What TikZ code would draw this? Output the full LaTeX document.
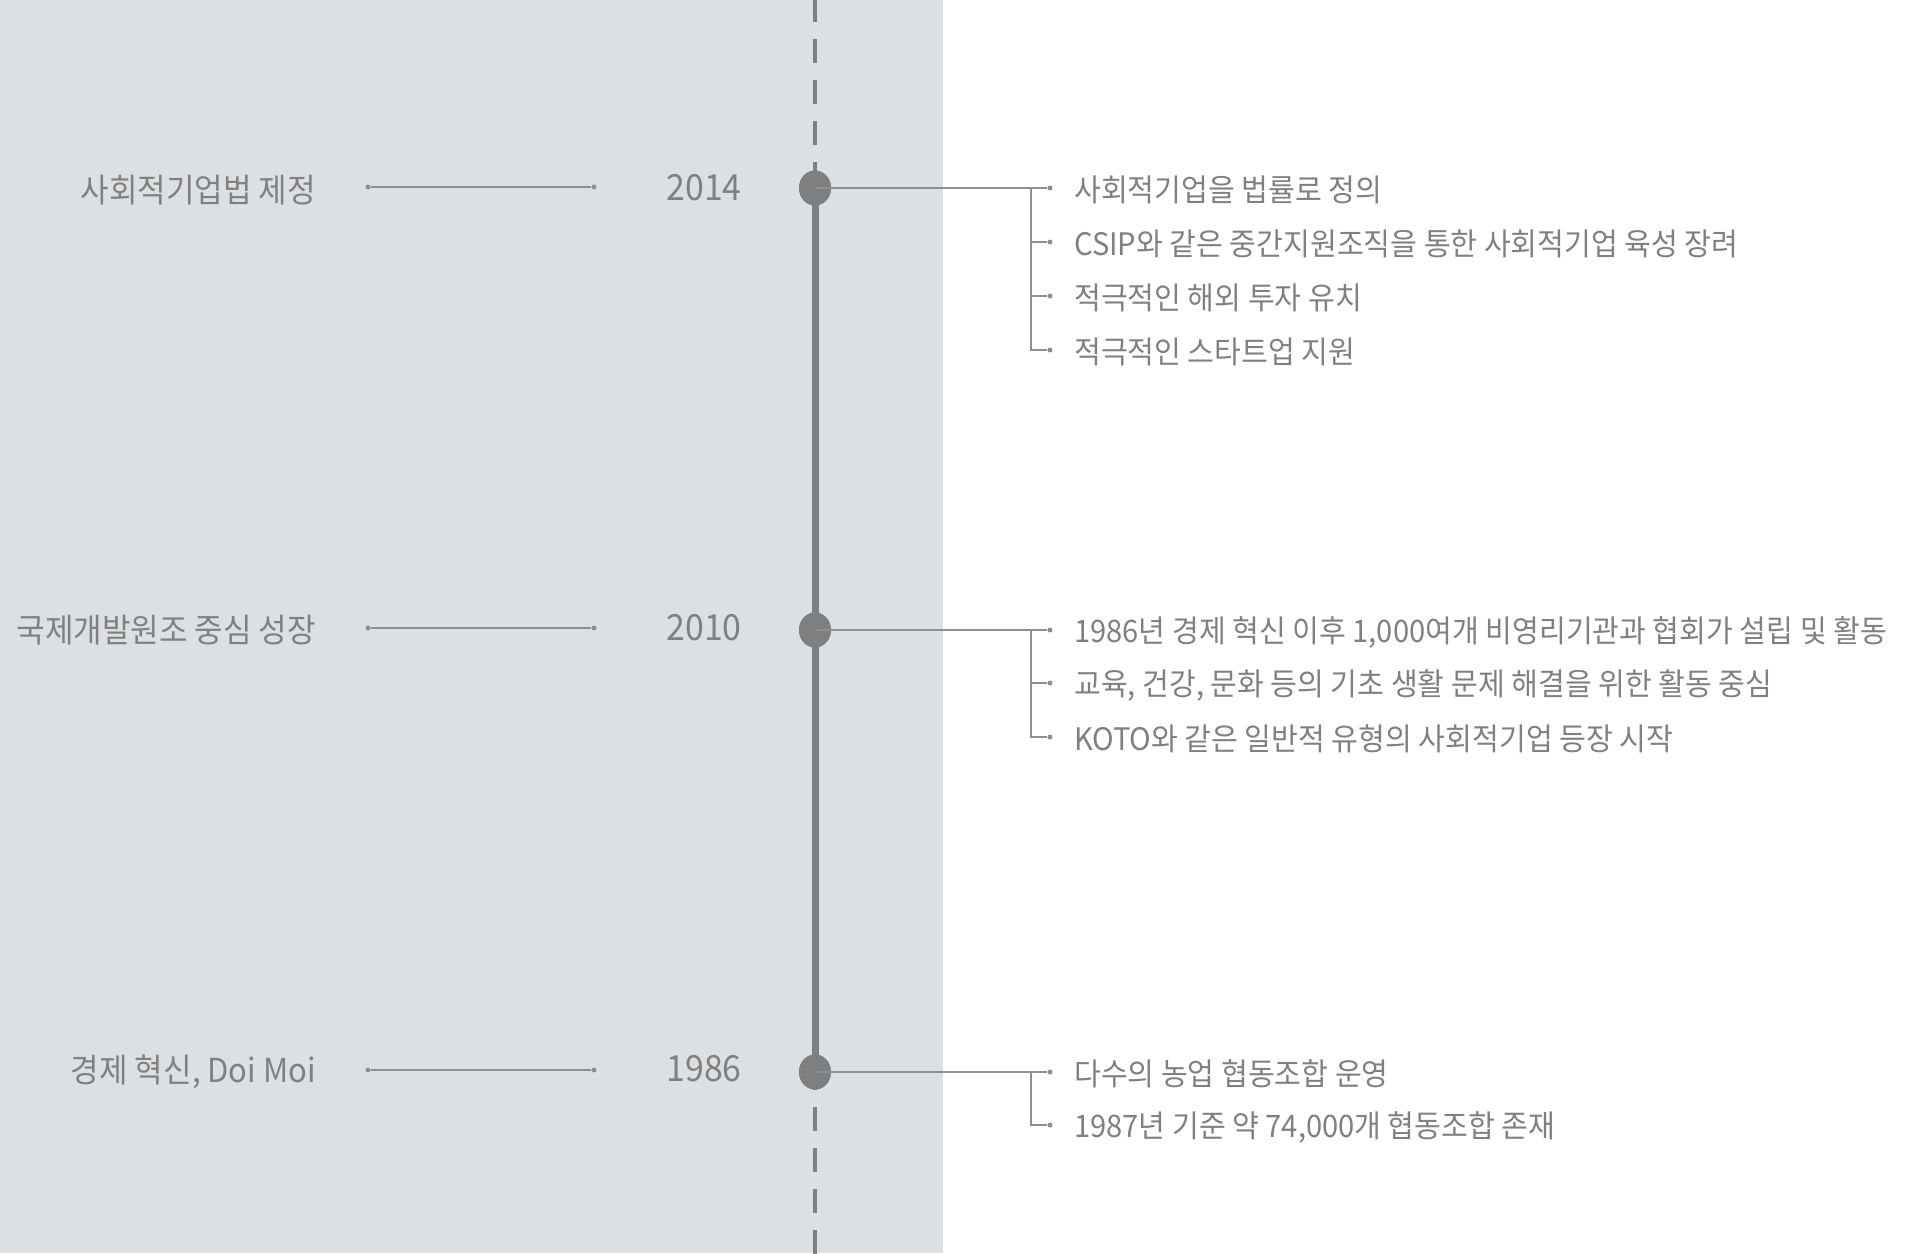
\documentclass[tikz,border=0pt]{standalone}
\usepackage{fontspec}
\usetikzlibrary{shapes.geometric}
\newfontfamily\krfont[FakeStretch=0.94]{Noto Sans CJK KR}
\definecolor{bggray}{HTML}{DDE0E3}
\definecolor{tlgray}{HTML}{7E7F81}
\definecolor{txtgray}{HTML}{808080}
\definecolor{lngray}{HTML}{8E8F91}
\tikzset{
  tlline/.style={draw=tlgray, line width=7pt},
  tldash/.style={draw=tlgray, line width=4pt, dash pattern=on 24pt off 17pt},
  tldot/.style={shape=ellipse, fill=tlgray, minimum width=32pt, minimum height=35pt, inner sep=0pt},
  smalldot/.style={shape=circle, fill=lngray, minimum size=5pt, inner sep=0pt},
  thin/.style={draw=lngray, line width=2pt},
  thinner/.style={draw=lngray, line width=1.5pt},
  lbl/.style={font=\krfont\fontsize{31}{37}\selectfont, text=txtgray, inner sep=0pt},
  item/.style={lbl, anchor=west},
  left/.style={lbl, font=\krfont\fontsize{33}{39}\selectfont, anchor=east},
  year/.style={lbl, font=\krfont\fontsize{36}{42}\selectfont, anchor=center}
}
\begin{document}
\begin{tikzpicture}[x=1pt,y=-1pt]
\useasboundingbox (0,0) rectangle (1925,1253);
\fill[bggray] (0,0) rectangle (943,1253);

% timeline
\coordinate (top) at (815,-2);
\coordinate (bot) at (815,1260);
\node[tldot] (d2014) at (815,188) {};
\node[tldot] (d2010) at (815,630) {};
\node[tldot] (d1986) at (815,1072) {};
\draw[tlline] (d2014.center) -- (d1986.center);
\draw[tldash] (top) -- (d2014.center);
\draw[tldash, dash phase=6pt] (d1986.center) -- (bot);
\node[tldot] at (d2014) {};
\node[tldot] at (d2010) {};
\node[tldot] at (d1986) {};

% years
\node[year] (y2014) at (704,188) {2014};
\node[year] (y2010) at (704,628) {2010};
\node[year] (y1986) at (704,1069) {1986};

% left labels and connectors
\node[left] (t2014) at (316,190) {사회적기업법 제정};
\node[left] (t2010) at (316,630) {국제개발원조 중심 성장};
\node[left] (t1986) at (316,1072) {경제 혁신, Doi Moi};
\foreach \n/\y in {a/187,b/628,c/1070}{
  \node[smalldot] (l\n1) at (368,\y) {};
  \node[smalldot] (l\n2) at (594,\y) {};
  \draw[thin] (l\n1) -- (l\n2);
}

% 2014 items
\coordinate (j1) at (1031,188);
\node[smalldot] (e11) at (1050,188) {};
\node[smalldot] (e12) at (1050,242) {};
\node[smalldot] (e13) at (1050,296) {};
\node[smalldot] (e14) at (1050,350) {};
\draw[thin] (d2014.center) -- (e11);
\draw[thinner] (j1) |- (e12);
\draw[thinner] (j1) |- (e13);
\draw[thinner] (j1) |- (e14);
\node[item] (i11) at (1074,190) {사회적기업을 법률로 정의};
\node[item] (i12) at (1074,244) {CSIP와 같은 중간지원조직을 통한 사회적기업 육성 장려};
\node[item] (i13) at (1074,298) {적극적인 해외 투자 유치};
\node[item] (i14) at (1074,352) {적극적인 스타트업 지원};

% 2010 items
\coordinate (j2) at (1031,630);
\node[smalldot] (e21) at (1050,630) {};
\node[smalldot] (e22) at (1050,683) {};
\node[smalldot] (e23) at (1050,737) {};
\draw[thin] (d2010.center) -- (e21);
\draw[thinner] (j2) |- (e22);
\draw[thinner] (j2) |- (e23);
\node[item] (i21) at (1074,632) {1986년 경제 혁신 이후 1,000여개 비영리기관과 협회가 설립 및 활동};
\node[item] (i22) at (1074,685) {교육, 건강, 문화 등의 기초 생활 문제 해결을 위한 활동 중심};
\node[item] (i23) at (1074,739) {KOTO와 같은 일반적 유형의 사회적기업 등장 시작};

% 1986 items
\coordinate (j3) at (1031,1072);
\node[smalldot] (e31) at (1050,1072) {};
\node[smalldot] (e32) at (1050,1125) {};
\draw[thin] (d1986.center) -- (e31);
\draw[thinner] (j3) |- (e32);
\node[item] (i31) at (1074,1074) {다수의 농업 협동조합 운영};
\node[item] (i32) at (1074,1127) {1987년 기준 약 74,000개 협동조합 존재};
\end{tikzpicture}
\end{document}
